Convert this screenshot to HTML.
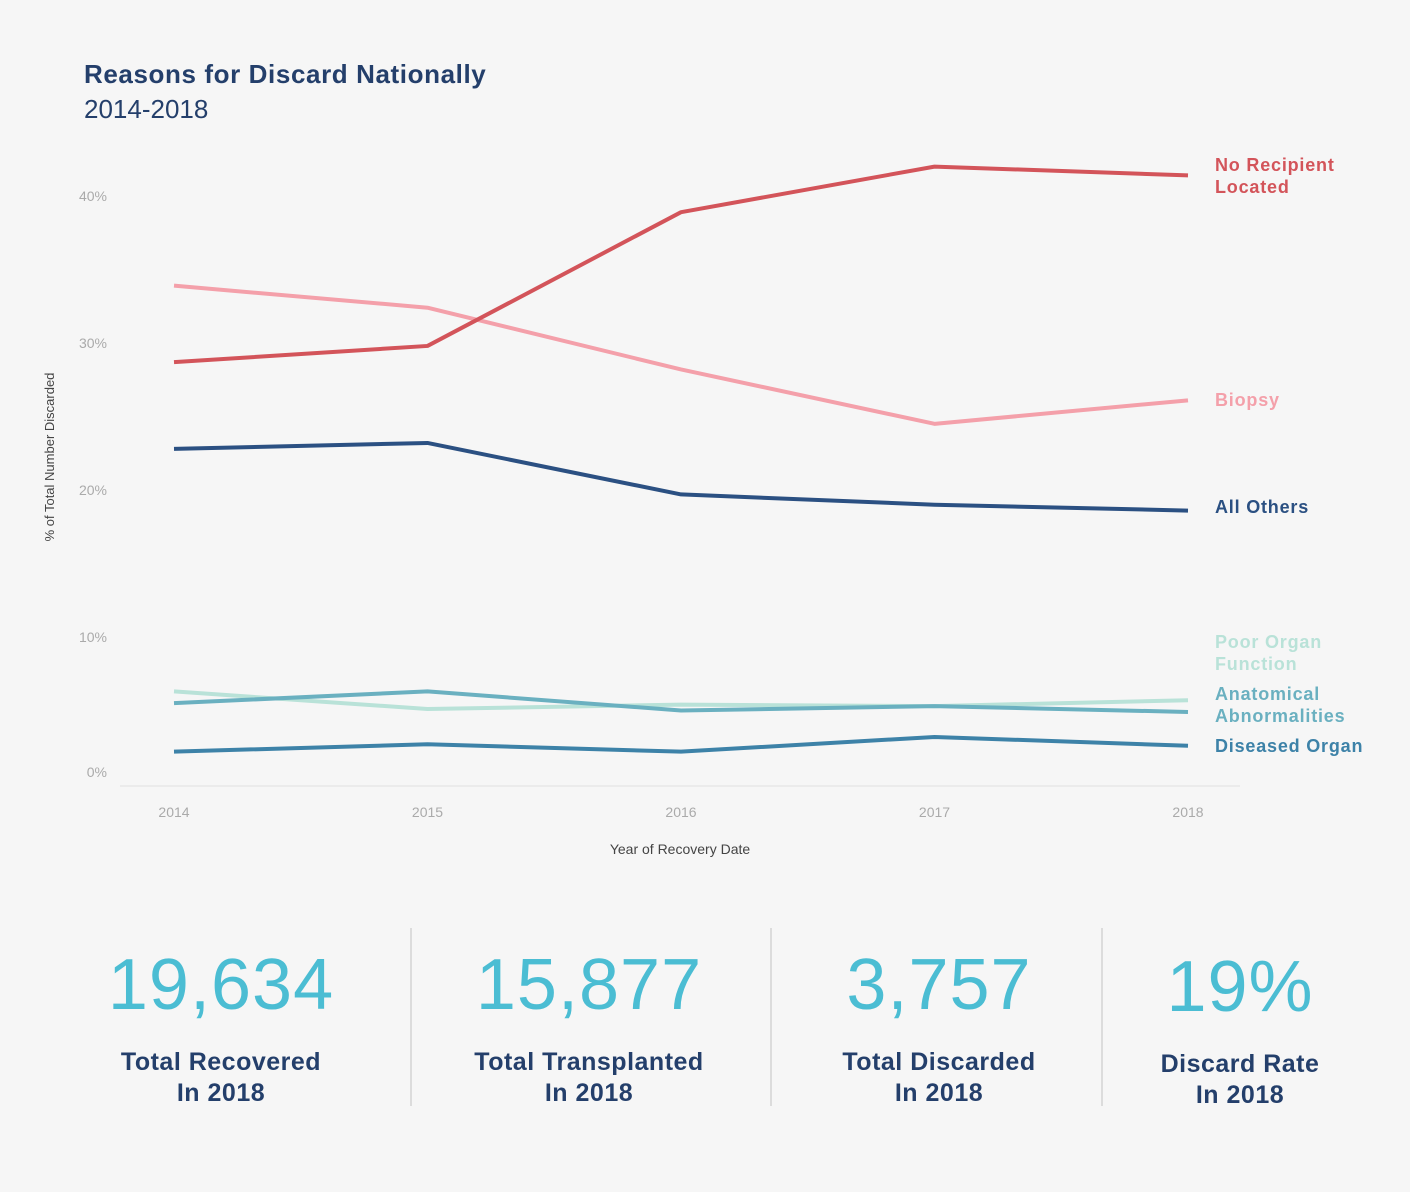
<!DOCTYPE html>
<html><head><meta charset="utf-8"><style>
body{margin:0;width:1410px;height:1192px;background:#f6f6f6;font-family:"Liberation Sans",sans-serif;overflow:hidden;position:relative}
.t{position:absolute}
.stat{position:absolute;text-align:center;width:330px}
.num{font-size:72px;color:#4bbdd3;letter-spacing:1px;line-height:80px}
.lab{font-size:25px;font-weight:bold;color:#243f6b;line-height:31px;margin-top:22px;letter-spacing:0.5px}
.sep{position:absolute;width:2px;background:#dcdcdc;top:928px;height:178px}
</style></head><body>
<div class="t" style="left:84px;top:59px;font-size:26px;font-weight:bold;color:#243f6b;letter-spacing:0.6px">Reasons for Discard Nationally</div>
<div class="t" style="left:84px;top:94px;font-size:26px;color:#243f6b">2014-2018</div>
<svg id="chart" width="1410" height="880" style="position:absolute;left:0;top:0"></svg>
<div class="stat" style="left:56px;top:945px"><div class="num">19,634</div><div class="lab">Total Recovered<br>In 2018</div></div>
<div class="sep" style="left:410px"></div>
<div class="stat" style="left:424px;top:945px"><div class="num">15,877</div><div class="lab">Total Transplanted<br>In 2018</div></div>
<div class="sep" style="left:770px"></div>
<div class="stat" style="left:774px;top:945px"><div class="num">3,757</div><div class="lab">Total Discarded<br>In 2018</div></div>
<div class="sep" style="left:1101px"></div>
<div class="stat" style="left:1075px;top:947px"><div class="num">19%</div><div class="lab">Discard Rate<br>In 2018</div></div>
<script>
const years=["2014","2015","2016","2017","2018"];
const yTicks=[0,10,20,30,40];
const noRecipient=[28.7,29.8,38.9,42.0,41.4];
const biopsy=[33.9,32.4,28.2,24.5,26.1];
const allOthers=[22.8,23.2,19.7,19.0,18.6];
const poorOrgan=[6.3,5.1,5.4,5.3,5.7];
const anatomical=[5.5,6.3,5.0,5.3,4.9];
const diseased=[2.2,2.7,2.2,3.2,2.6];
const svg=document.getElementById('chart');
const NS='http://www.w3.org/2000/svg';
const x=i=>174+i*253.5;
const y=v=>784-v*14.7;
function mk(tag,attrs,txt){const e=document.createElementNS(NS,tag);for(const k in attrs)e.setAttribute(k,attrs[k]);if(txt!==undefined)e.textContent=txt;svg.appendChild(e);return e;}
let ax=mk('line',{x1:120,x2:1240,y1:786,y2:786,stroke:'#ebebeb','stroke-width':2});


yTicks.forEach(v=>{const t=mk('text',{x:107,y:(v===0?777:y(v)+5),'text-anchor':'end','font-size':14,fill:'#aaa'},v+'%');

});
years.forEach((yr,i)=>{const t=mk('text',{x:x(i),y:817,'text-anchor':'middle','font-size':14,fill:'#aaa'},yr);

});
let xt=mk('text',{x:680,y:854,'text-anchor':'middle','font-size':14,fill:'#444'},'Year of Recovery Date');


let yt=mk('text',{x:0,y:0,'text-anchor':'middle','font-size':13,fill:'#444',transform:'translate(54,457) rotate(-90)'},'% of Total Number Discarded');


const series=[
 [poorOrgan,'#b9e2d8','poor-organ-function',['Poor Organ','Function'],648],
 [anatomical,'#6ab0c0','anatomical-abnormalities',['Anatomical','Abnormalities'],700],
 [diseased,'#3d82a8','diseased-organ',['Diseased Organ'],752],
 [allOthers,'#2b5082','all-others',['All Others'],513],
 [biopsy,'#f4a0aa','biopsy',['Biopsy'],406],
 [noRecipient,'#d3545a','no-recipient-located',['No Recipient','Located'],171]
];
series.forEach(([d,c,n,lbl,ly])=>{
 const p=mk('polyline',{points:d.map((v,i)=>x(i)+','+y(v)).join(' '),fill:'none',stroke:c,'stroke-width':4,'stroke-linejoin':'round'});
 
 
 lbl.forEach((s,k)=>{const t=mk('text',{x:1215,y:ly+k*22,'font-size':18,'font-weight':'bold',fill:c,'letter-spacing':0.8},s);
 
 });
});
</script>
</body></html>
